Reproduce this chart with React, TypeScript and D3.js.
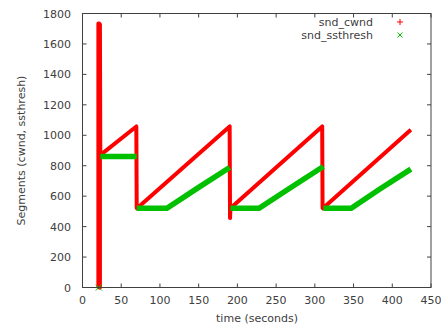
import React from "react";
import * as d3 from "d3";

const W = 441;
const H = 327;

// snd_cwnd samples (time s, segments)
const cwndTime = [20.5, 20.5, 21.5, 21.5, 22.5, 22.5, 23.0, 69.5, 70, 70.5, 190, 190.5, 191, 309.5, 310, 310.5, 424];
const cwndValue = [0, 1735, 1735, 0, 0, 1730, 870, 1058, 523, 520, 1058, 456, 520, 1058, 522, 520, 1036];

// snd_ssthresh segments (NaN = break)
const ssTime = [23, 70, NaN, 70, 109, 150, 190, NaN, 191, 228, 270, 311, NaN, 311, 347, 385, 424];
const ssValue = [860, 860, NaN, 520, 520, 658, 788, NaN, 520, 520, 660, 795, NaN, 520, 520, 650, 778];
const ssIsolatedTime = [21];
const ssIsolatedValue = [0];

const xTicks = [0, 50, 100, 150, 200, 250, 300, 350, 400, 450];
const yTicks = [0, 200, 400, 600, 800, 1000, 1200, 1400, 1600, 1800];

const seriesNames = ["snd_cwnd", "snd_ssthresh"];

export default function App() {
  const left = 82.5, right = 431, top = 13.5, bottom = 287.5;
  const x = d3.scaleLinear().domain([0, 450]).range([left, right]);
  const y = d3.scaleLinear().domain([0, 1800]).range([bottom, top]);
  const axisColor = "#404040";
  const font = "'DejaVu Sans', sans-serif";

  const cwnd = cwndTime.map((t, i) => [t, cwndValue[i]] as [number, number]);
  const ss = ssTime.map((t, i) => [t, ssValue[i]] as [number, number]);
  const line = d3
    .line<[number, number]>()
    .defined((d) => !isNaN(d[0]))
    .x((d) => x(d[0]))
    .y((d) => y(d[1]));

  const tickLen = 4;

  return (
    <svg
      width={W}
      height={H}
      style={{ position: "absolute", left: 0, top: 0, background: "#fff" }}
      fontFamily={font}
    >
      <rect width={W} height={H} fill="#fff" />
      {/* data */}
      <path d={line(cwnd) || ""} fill="none" stroke="#ff0000" strokeWidth={4} strokeLinejoin="round" />
      <path d={line(ss) || ""} fill="none" stroke="#00c000" strokeWidth={5.5} />
      {ssIsolatedTime.map((t, i) => (
        <g key={i} transform={`translate(${x(t)},${y(ssIsolatedValue[i])})`} stroke="#00c000" strokeWidth={1}>
          <line x1={-3} y1={-3} x2={3} y2={3} />
          <line x1={-3} y1={3} x2={3} y2={-3} />
        </g>
      ))}
      {/* frame */}
      <rect x={left} y={top} width={right - left} height={bottom - top} fill="none" stroke={axisColor} strokeWidth={1} />
      {xTicks.map((t) => (
        <g key={"x" + t}>
          <line x1={x(t)} x2={x(t)} y1={bottom} y2={bottom - tickLen} stroke={axisColor} />
          <line x1={x(t)} x2={x(t)} y1={top} y2={top + tickLen} stroke={axisColor} />
          <text x={x(t)} y={304} fontSize={11} fill={axisColor} textAnchor="middle">
            {t}
          </text>
        </g>
      ))}
      {yTicks.map((v) => (
        <g key={"y" + v}>
          <line x1={left} x2={left + tickLen} y1={y(v)} y2={y(v)} stroke={axisColor} />
          <line x1={right} x2={right - tickLen} y1={y(v)} y2={y(v)} stroke={axisColor} />
          <text x={71} y={y(v) + 4} fontSize={11} fill={axisColor} textAnchor="end">
            {v}
          </text>
        </g>
      ))}
      <text x={257} y={322} fontSize={11} fill={axisColor} textAnchor="middle">
        time (seconds)
      </text>
      <text
        transform={`translate(25,${(top + bottom) / 2}) rotate(-90)`}
        fontSize={11}
        fill={axisColor}
        textAnchor="middle"
      >
        Segments (cwnd, ssthresh)
      </text>
      {/* legend */}
      <text x={373} y={26} fontSize={11} fill={axisColor} textAnchor="end">
        {seriesNames[0]}
      </text>
      <text x={373} y={39} fontSize={11} fill={axisColor} textAnchor="end">
        {seriesNames[1]}
      </text>
      <g transform="translate(400,22)" stroke="#ff0000" strokeWidth={1}>
        <line x1={-3} x2={3} y1={0} y2={0} />
        <line x1={0} x2={0} y1={-3} y2={3} />
      </g>
      <g transform="translate(400,35)" stroke="#00c000" strokeWidth={1}>
        <line x1={-2.5} y1={-2.5} x2={2.5} y2={2.5} />
        <line x1={-2.5} y1={2.5} x2={2.5} y2={-2.5} />
      </g>
    </svg>
  );
}
